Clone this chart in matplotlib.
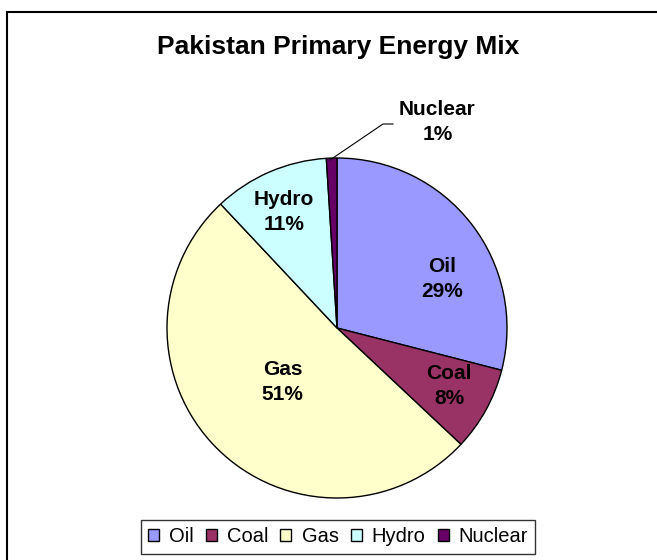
import matplotlib
matplotlib.use("Agg")
import matplotlib.pyplot as plt
from matplotlib.patches import Rectangle

categories = ["Oil", "Coal", "Gas", "Hydro", "Nuclear"]
values = [29, 8, 51, 11, 1]
colors = ["#9999FF", "#993366", "#FFFFCC", "#CCFFFF", "#660066"]
label_pos = [(0.62, 0.29), (0.66, -0.34), (-0.32, -0.32), (-0.31, 0.68), (0.59, 1.21)]

plt.rcParams['font.family'] = ['Liberation Sans', 'DejaVu Sans']

fig = plt.figure(figsize=(6.57, 5.6), dpi=100)
ax = fig.add_axes([167/657, 62/560, 340/657, 340/560])
wedges, _ = ax.pie(values, colors=colors, startangle=90, counterclock=False,
                   wedgeprops=dict(edgecolor="black", linewidth=1.0), radius=1)
ax.set_xlim(-1, 1)
ax.set_ylim(-1, 1)
ax.set_aspect('auto')
ax.axis('off')

for cat, v, (x, y) in zip(categories, values, label_pos):
    ax.text(x, y, f"{cat}\n{v}%", ha="center", va="center", fontsize=15,
            fontweight="bold", linespacing=1.4, clip_on=False)

# leader line for Nuclear
ax.plot([(330-337)/170, (383-337)/170, (393-337)/170],
        [(328-160)/170, (328-124)/170, (328-124)/170],
        color="black", linewidth=0.8, clip_on=False)

fig.text(338/657, 1-47/560, "Pakistan Primary Energy Mix", ha="center", va="center",
         fontsize=19, fontweight="bold")

# outer border
fig.patches.append(Rectangle((7/657, -0.1), 1.2, (560-12)/560 + 0.1, transform=fig.transFigure,
                             fill=False, edgecolor="black", linewidth=1.5))

leg = fig.legend(wedges, categories, loc="center", bbox_to_anchor=(338/657, 1-537/560),
                 ncol=5, fontsize=14.5, frameon=True, fancybox=False, edgecolor="black",
                 handlelength=0.55, handleheight=0.55, handletextpad=0.5, columnspacing=0.6,
                 borderpad=0.35, borderaxespad=0)
leg.get_frame().set_linewidth(1.0)

fig.savefig("out.png", dpi=100, facecolor="white")
